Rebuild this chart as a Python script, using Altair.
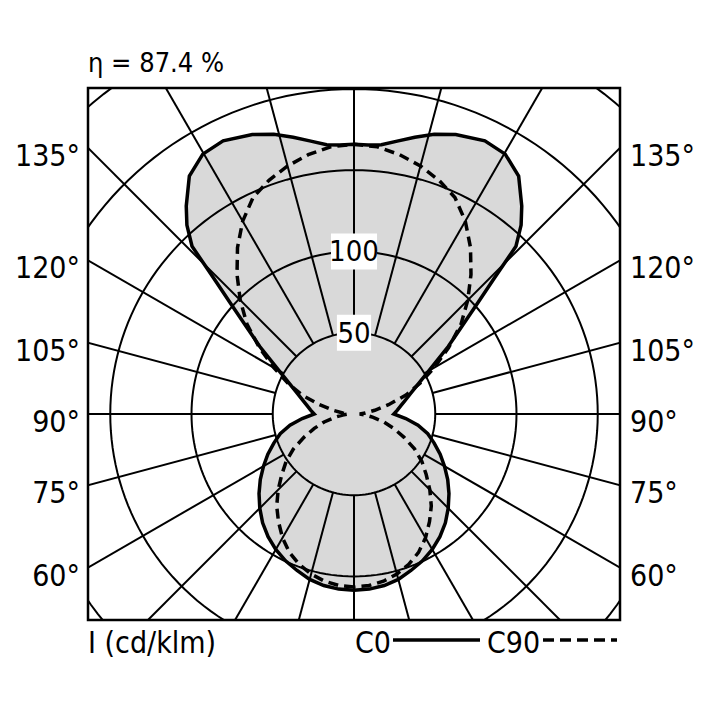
import altair as alt
import numpy as np
import pandas as pd

# ---- data (gamma in degrees from nadir, I in cd/klm) ----
C0_ANGLES = [0, 5, 10, 15, 20, 25, 30, 35, 40, 45, 50, 55, 60, 65, 70, 75, 80, 85, 90,
             95, 100, 105, 110, 113, 120, 125.6, 128, 130, 132, 134, 136, 138.5, 141.1,
             145.3, 149.8, 154.4, 160, 164, 167.6, 171, 174.2, 177, 180]
C0_VALUES = [108.5, 108.2, 107.2, 105.4, 102.5, 99.7, 96.3, 92.2, 87.5, 82, 76.3, 70.4,
             64.3, 58.5, 52.5, 47, 40, 32, 24.5, 26.8, 29.3, 32.7, 37.1, 40.7, 53.3, 71.3,
             80.6, 90.4, 103, 119.7, 143.5, 155.2, 164.4, 178, 185, 186.4, 183, 179, 174.3,
             170, 166.5, 165.8, 166]

C90_ANGLES = [0, 5, 10, 15, 20, 25, 30, 35, 40, 45, 50, 55, 60, 65, 70, 75, 80, 85, 90,
              95, 100, 105, 110, 115, 120, 125, 130, 135, 140, 145, 150, 155, 160, 165,
              170, 175, 180]
C90_VALUES = [106.5, 106, 104.5, 102, 98.5, 94, 88, 81, 74, 66, 58, 51, 43, 34, 26, 19,
              12, 7, 3.5, 7, 13, 22, 34, 45, 57, 71, 86, 99, 112, 125, 137, 147, 153, 158,
              162, 165, 166]

SERIES = ["C0", "C90"]
RINGS = [50, 100, 150, 200, 250]
RING_LABELS = [50, 100]
SPOKE_ANGLES = list(range(0, 360, 15))
ANGLE_LABELS = [60, 75, 90, 105, 120, 135]
TITLE = "η = 87.4 %"
UNIT_LABEL = "I (cd/klm)"

# ---- layout ----
XMAX = 163.7
YMIN, YMAX = -126.8, 200.6
W = H = 532
FONT = "DejaVu Sans Condensed, Roboto, sans-serif"
GRAY = "#d9d9d9"

xs = alt.Scale(domain=[-XMAX, XMAX], nice=False, zero=False)
ys = alt.Scale(domain=[YMIN, YMAX], nice=False, zero=False)


def X(f="x"):
    return alt.X(f"{f}:Q", scale=xs, axis=None)


def Y(f="y"):
    return alt.Y(f"{f}:Q", scale=ys, axis=None)


def outline(angles, values, name):
    seq = [(a, v, -1) for a, v in zip(angles, values)] + \
          [(a, v, 1) for a, v in zip(angles[::-1], values[::-1])]
    rows = []
    for i, (a, v, s) in enumerate(seq):
        t = np.radians(a)
        rows.append({"series": name, "i": i, "x": s * v * np.sin(t), "y": -v * np.cos(t)})
    return rows


curves = pd.DataFrame(outline(C0_ANGLES, C0_VALUES, SERIES[0]) +
                      outline(C90_ANGLES, C90_VALUES, SERIES[1]))

ring_rows = []
for r in RINGS:
    for k, a in enumerate(range(0, 362, 2)):
        t = np.radians(a)
        ring_rows.append({"ring": r, "i": k, "x": r * np.sin(t), "y": -r * np.cos(t)})
rings_df = pd.DataFrame(ring_rows)

spoke_rows = []
for a in SPOKE_ANGLES:
    t = np.radians(a)
    spoke_rows.append({"x": RINGS[0] * np.sin(t), "y": -RINGS[0] * np.cos(t),
                       "x2": 500 * np.sin(t), "y2": -500 * np.cos(t)})
spokes_df = pd.DataFrame(spoke_rows)

lab_rows = []
for a in ANGLE_LABELS:
    t = np.radians(a)
    lab_rows.append({"label": f"{a}°", "xl": -XMAX, "xr": XMAX,
                     "y": -XMAX * np.cos(t) / np.sin(t)})
labels_df = pd.DataFrame(lab_rows)

ring_lab_df = pd.DataFrame({"x": [0.0] * len(RING_LABELS), "y": RING_LABELS,
                            "label": [str(v) for v in RING_LABELS]})

# ---- layers ----
fill = alt.Chart(curves).mark_line(fill=GRAY, stroke=GRAY, strokeWidth=1, clip=True).encode(
    x=X(), y=Y(), detail="series:N", order="i:Q")

rings = alt.Chart(rings_df).mark_line(color="black", strokeWidth=2, clip=True).encode(
    x=X(), y=Y(), detail="ring:N", order="i:Q")

spokes = alt.Chart(spokes_df).mark_rule(color="black", strokeWidth=2, clip=True).encode(
    x=X(), y=Y(), x2="x2:Q", y2="y2:Q")

box100 = alt.Chart(ring_lab_df[ring_lab_df.y == 100]).mark_point(
    shape="M-1.28,-1L1.28,-1L1.28,1L-1.28,1Z", size=1296, filled=True, fill="white",
    opacity=1, strokeWidth=0).encode(x=X(), y=Y())
box50 = alt.Chart(ring_lab_df[ring_lab_df.y == 50]).mark_point(
    shape="M-0.95,-1L0.95,-1L0.95,1L-0.95,1Z", size=1296, filled=True, fill="white",
    opacity=1, strokeWidth=0).encode(x=X(), y=Y())
ring_text = alt.Chart(ring_lab_df).mark_text(
    font=FONT, fontSize=29, baseline="middle", align="center", dy=1, color="black").encode(
    x=X(), y=Y(), text="label:N")

c90_line = alt.Chart(curves[curves.series == SERIES[1]]).mark_line(
    color="black", strokeWidth=3.5, strokeDash=[10, 6], clip=True).encode(
    x=X(), y=Y(), order="i:Q")
c0_line = alt.Chart(curves[curves.series == SERIES[0]]).mark_line(
    color="black", strokeWidth=3.5, clip=True).encode(
    x=X(), y=Y(), order="i:Q")

frame = alt.Chart(pd.DataFrame({"f": [0]})).mark_rect(
    fill=None, fillOpacity=0, stroke="black", strokeWidth=2.5).encode(
    x=alt.value(0), x2=alt.value(W), y=alt.value(0), y2=alt.value(H))

left_labels = alt.Chart(labels_df).mark_text(
    font=FONT, fontSize=30, align="right", baseline="alphabetic", dx=-8, dy=18,
    color="black").encode(x=X("xl"), y=Y(), text="label:N")
right_labels = alt.Chart(labels_df).mark_text(
    font=FONT, fontSize=30, align="left", baseline="alphabetic", dx=10, dy=18,
    color="black").encode(x=X("xr"), y=Y(), text="label:N")

title = alt.Chart(pd.DataFrame({"t": [TITLE]})).mark_text(
    font=FONT, fontSize=27, align="left", baseline="alphabetic", color="black").encode(
    x=alt.value(0), y=alt.value(-16), text="t:N")

leg_df = pd.DataFrame({"t": [UNIT_LABEL, SERIES[0], SERIES[1]], "px": [0, 267, 399]})
leg_text = alt.Chart(leg_df).mark_text(
    font=FONT, fontSize=30, align="left", baseline="alphabetic", color="black").encode(
    x=alt.X("px:Q", scale=None, axis=None), y=alt.value(565), text="t:N")
leg_solid = alt.Chart(pd.DataFrame({"s": [SERIES[0]]})).mark_rule(
    color="black", strokeWidth=3.5).encode(
    x=alt.value(305), x2=alt.value(392), y=alt.value(552))
leg_dash = alt.Chart(pd.DataFrame({"s": [SERIES[1]]})).mark_rule(
    color="black", strokeWidth=3.5, strokeDash=[11, 6]).encode(
    x=alt.value(455), x2=alt.value(529), y=alt.value(552))

chart = alt.layer(
    fill, rings, spokes, box100, box50, ring_text, c90_line, c0_line, frame,
    left_labels, right_labels, title, leg_text, leg_solid, leg_dash
).properties(
    width=W, height=H,
    padding={"left": 80, "top": 80, "right": 76, "bottom": 66},
    autosize=alt.AutoSizeParams(type="none"),
).configure_view(stroke=None).configure(background="white")

chart.save("out.html", embed_options={"renderer": "svg", "actions": False})
